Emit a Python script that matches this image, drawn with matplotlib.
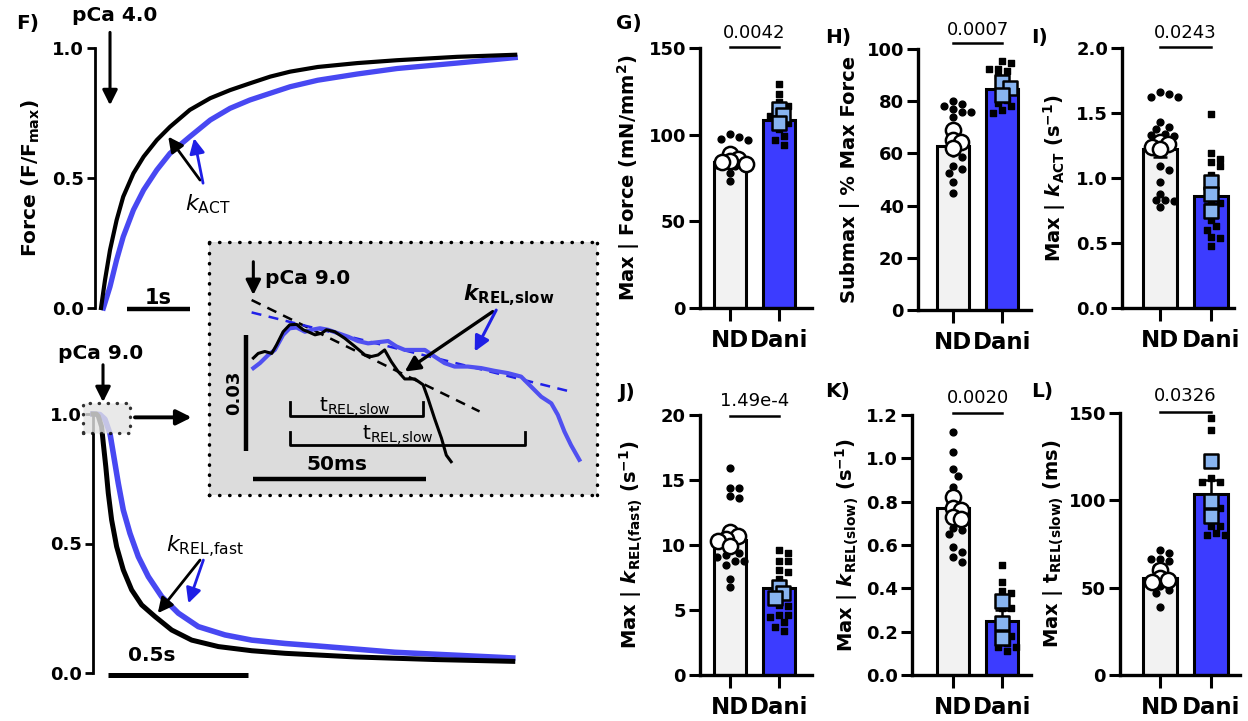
import numpy as np
import matplotlib
matplotlib.use('Agg')
import matplotlib.pyplot as plt
from matplotlib.patches import Rectangle

plt.rcParams['font.family'] = ['DejaVu Sans']
plt.rcParams['mathtext.fontset'] = 'custom'
plt.rcParams['mathtext.rm'] = 'DejaVu Sans'
plt.rcParams['mathtext.it'] = 'DejaVu Sans:italic'
plt.rcParams['mathtext.bf'] = 'DejaVu Sans:bold'
plt.rcParams['mathtext.bfit'] = 'DejaVu Sans:italic:bold'
plt.rcParams['mathtext.default'] = 'regular'

# ---- F) activation traces (s, F/Fmax) ----
act_t_nd = [0, 0.067, 0.15, 0.26, 0.37, 0.54, 0.71, 0.93, 1.15, 1.48, 1.82, 2.15,
            2.48, 2.82, 3.15, 3.61, 4.27, 4.93, 5.93, 6.90]
act_f_nd = [0, 0.108, 0.223, 0.338, 0.428, 0.518, 0.582, 0.646, 0.697, 0.762, 0.807,
            0.838, 0.864, 0.89, 0.909, 0.927, 0.942, 0.953, 0.966, 0.974]
act_t_dani = [0.04, 0.15, 0.26, 0.37, 0.54, 0.71, 0.93, 1.15, 1.48, 1.82, 2.15, 2.48,
              2.82, 3.15, 3.61, 4.27, 4.93, 5.93, 6.90]
act_f_dani = [0, 0.082, 0.185, 0.274, 0.377, 0.454, 0.531, 0.595, 0.659, 0.723, 0.768,
              0.80, 0.826, 0.851, 0.876, 0.90, 0.921, 0.942, 0.963]

# ---- F) relaxation traces (s, F/Fmax) ----
rel_t_nd = [0, 0.012, 0.019, 0.031, 0.037, 0.046, 0.055, 0.067, 0.085, 0.109, 0.139,
            0.175, 0.223, 0.283, 0.355, 0.451, 0.571, 0.691, 0.943, 1.229, 1.51]
rel_f_nd = [1.0, 1.0, 0.992, 0.951, 0.887, 0.797, 0.694, 0.591, 0.488, 0.398, 0.321,
            0.263, 0.218, 0.166, 0.127, 0.102, 0.086, 0.076, 0.062, 0.052, 0.045]
rel_t_dani = [0, 0.025, 0.043, 0.061, 0.073, 0.091, 0.109, 0.133, 0.163, 0.199, 0.247,
              0.307, 0.379, 0.475, 0.571, 0.691, 0.80, 1.086, 1.51]
rel_f_dani = [1.0, 0.998, 0.98, 0.925, 0.848, 0.732, 0.629, 0.539, 0.449, 0.372, 0.295,
              0.231, 0.179, 0.147, 0.127, 0.114, 0.105, 0.08, 0.058]

# ---- inset: start of relaxation (ms, F/Fmax) ----
ins_t_nd = [12.8, 14.2, 16.1, 18.1, 19.5, 21.4, 23.3, 25.3, 27.2, 28.6, 30.6, 32.5, 33.9,
            36.3, 39.2, 42.1, 45.0, 46.9, 48.8, 50.7, 52.6, 54.6, 56.5, 59.4, 61.8, 63.2,
            65.1, 67.1, 68.5, 69.9]
ins_f_nd = [0.9754, 0.9766, 0.9771, 0.9766, 0.9788, 0.9822, 0.9840, 0.9841, 0.9827,
            0.9822, 0.9814, 0.9818, 0.9827, 0.9822, 0.9805, 0.9784, 0.9762, 0.9758,
            0.9762, 0.9775, 0.9745, 0.9719, 0.9700, 0.9700, 0.9685, 0.9650, 0.9598,
            0.9547, 0.9503, 0.9486]
ins_t_dani = [12.8, 14.7, 17.1, 19.0, 21.4, 23.3, 25.3, 27.7, 29.6, 32.0, 34.4, 37.3,
              40.2, 43.0, 45.9, 48.8, 51.7, 54.1, 56.5, 58.4, 62.3, 65.1, 68.0, 70.9,
              74.7, 78.6, 82.4, 86.3, 90.1, 93.0, 95.9, 98.8, 100.7, 102.6, 104.5, 106.9]
ins_f_dani = [0.9728, 0.9741, 0.9762, 0.9775, 0.9814, 0.9831, 0.9833, 0.9822, 0.9827,
              0.9831, 0.9827, 0.9818, 0.9809, 0.9798, 0.9792, 0.9795, 0.9798, 0.9784,
              0.9775, 0.9775, 0.9775, 0.9758, 0.9741, 0.9732, 0.9732, 0.9728, 0.9721,
              0.9715, 0.9706, 0.9680, 0.9654, 0.9637, 0.9607, 0.9564, 0.9529, 0.9491]
fit_t_nd = [12.3, 78.1]
fit_f_nd = [0.9904, 0.9616]
fit_t_dani = [12.3, 104.5]
fit_f_dani = [0.9872, 0.9667]

groups = ['ND', 'Dani']

# ---- G) Max force (mN/mm2) ----
g_bar = [84, 108.5]
g_err = [2.5, 3.0]
g_nd_dots = [100.6, 98.5, 97.5, 97, 87.5, 85.6, 83.6, 82.7, 82, 81, 78, 73]
g_nd_means = [89, 86, 85, 84, 83]
g_dani_dots = [129, 123.5, 118.7, 116.7, 114.4, 112.5, 110.6, 108.7, 106.7, 103, 99, 97, 94]
g_dani_means = [115, 111.5, 106.7]
g_p = '0.0042'

# ---- H) Submax % max force ----
h_bar = [63, 84.5]
h_err = [2.5, 2.0]
h_nd_dots = [80, 79, 78, 77, 76, 76, 74, 60, 58.8, 55, 54, 52.4, 49, 44.8]
h_nd_means = [69, 65, 64.5, 62]
h_dani_dots = [95.3, 94.5, 92.5, 92.5, 91.4, 89.5, 83.1, 80.6, 79.3, 78, 76.7, 75.4]
h_dani_means = [87.2, 85.2, 82.5]
h_p = '0.0007'

# ---- I) kACT (1/s) ----
i_bar = [1.22, 0.86]
i_err = [0.06, 0.06]
i_nd_dots = [1.66, 1.65, 1.62, 1.62, 1.43, 1.39, 1.38, 1.34, 1.33, 1.32, 1.09, 1.06,
             0.97, 0.88, 0.83, 0.83, 0.82, 0.78]
i_nd_means = [1.28, 1.26, 1.24, 1.22]
i_dani_dots = [1.49, 1.19, 1.15, 1.12, 1.09, 1.02, 0.83, 0.81, 0.77, 0.68, 0.63, 0.60,
               0.55, 0.54, 0.48]
i_dani_means = [0.97, 0.88, 0.75]
i_p = '0.0243'

# ---- J) kREL(fast) (1/s) ----
j_bar = [10.4, 6.7]
j_err = [0.5, 0.5]
j_nd_dots = [15.9, 14.4, 14.4, 13.8, 13.6, 9.7, 9.4, 9.2, 9.1, 8.8, 8.8, 8.5, 7.4, 6.8]
j_nd_means = [11.0, 10.7, 10.5, 10.3, 9.9]
j_dani_dots = [9.6, 9.4, 8.8, 8.8, 8.1, 7.9, 7.4, 5.4, 5.3, 4.6, 4.6, 4.5, 4.1, 3.7, 3.4]
j_dani_means = [6.8, 6.3, 5.9]
j_p = '1.49e-4'

# ---- K) kREL(slow) (1/s) ----
k_bar = [0.77, 0.25]
k_err = [0.02, 0.05]
k_nd_dots = [1.12, 1.03, 0.95, 0.92, 0.87, 0.80, 0.78, 0.715, 0.68, 0.67, 0.65, 0.59,
             0.57, 0.546, 0.52]
k_nd_means = [0.82, 0.77, 0.76, 0.73, 0.72]
k_dani_dots = [0.51, 0.43, 0.39, 0.38, 0.31, 0.31, 0.22, 0.18, 0.18, 0.15, 0.13, 0.13, 0.11]
k_dani_means = [0.34, 0.24, 0.17]
k_p = '0.0020'

# ---- L) tREL(slow) (ms) ----
l_bar = [55.5, 103.5]
l_err = [2.5, 8.0]
l_nd_dots = [71.7, 69.8, 66.3, 66.3, 65, 62.1, 58.3, 50.7, 48.8, 46.8, 39.2]
l_nd_means = [60.2, 55.4, 54.5, 53.5]
l_dani_dots = [147, 140.2, 112.8, 110.3, 110.3, 96.6, 95.6, 85.1, 85.1, 81.3, 80.3, 80.3]
l_dani_means = [122.4, 99.4, 90.8]
l_p = '0.0326'

W, H = 1248, 721
BLUE_TRACE = '#4848f2'
BLUE_BAR = '#3c3cff'
LIGHT_BLUE = '#88b4f0'
ND_FILL = '#f2f2f2'
FS = 13  # base text size


def add_ax(fig, left, top, right, bottom):
    return fig.add_axes([left / W, 1 - bottom / H, (right - left) / W, (bottom - top) / H])


def arrow(ax, tail, head, color='k', lw=2.2, hw=0.45, hl=0.9):
    ax.annotate('', xy=head, xytext=tail, annotation_clip=False,
                arrowprops=dict(arrowstyle=f'-|>,head_width={hw},head_length={hl}',
                                lw=lw, color=color, shrinkA=0, shrinkB=0,
                                mutation_scale=10))


def trace_axes(ax):
    for s in ['top', 'right', 'bottom']:
        ax.spines[s].set_visible(False)
    ax.spines['left'].set_linewidth(2.0)
    ax.set_xticks([])
    ax.set_yticks([0, 0.5, 1.0], ['0.0', '0.5', '1.0'], fontsize=FS, fontweight='bold')
    ax.tick_params(axis='y', length=6, width=2.0, pad=2)
    ax.patch.set_alpha(0)


def swarm(vals, px_unit, px_cat, d):
    vals = np.asarray(vals, float)
    xs = np.zeros(len(vals))
    pts = []
    for i in np.argsort(-vals):
        y = vals[i] * px_unit
        k = 0
        while True:
            step = (k + 1) // 2
            x = step * d * 0.6 * (1 if k % 2 else -1)
            if all((x - px) ** 2 + (y - py) ** 2 >= d * d for px, py in pts):
                break
            k += 1
        pts.append((x, y))
        xs[i] = x / px_cat
    return xs


fig = plt.figure(figsize=(W / 100, H / 100), dpi=100)

# ---------- F top: activation ----------
axA = add_ax(fig, 95, 48, 520, 308)
axA.set_xlim(-0.1, 6.98)
axA.set_ylim(0, 1)
trace_axes(axA)
axA.plot(act_t_dani, act_f_dani, color=BLUE_TRACE, lw=3.8, clip_on=False)
axA.plot(act_t_nd, act_f_nd, color='k', lw=3.0, clip_on=False)
axA.set_ylabel('Force (F/F$_{max}$)', fontsize=14.5, fontweight='bold')
axA.yaxis.set_label_coords((42 - 95) / 425, 0.5)
axA.text(0.23, 1.125, 'pCa 4.0', fontsize=14.5, fontweight='bold', ha='center', va='center')
arrow(axA, (0.15, 1.06), (0.15, 0.78))
axA.plot([0.43, 1.48], [-0.004, -0.004], color='k', lw=3.2, clip_on=False, solid_capstyle='butt')
axA.text(0.95, 0.04, '1s', fontsize=15, fontweight='bold', ha='center', va='center')
arrow(axA, (1.65, 0.492), (1.12, 0.659), lw=2.0)
arrow(axA, (1.70, 0.48), (1.55, 0.653), color='#1f1fe6', lw=2.0)
axA.text(1.78, 0.40, r'$\mathit{k}_{ACT}$', fontsize=16, ha='center', va='center')
fig.text(16 / W, 1 - 24 / H, 'F)', fontsize=14.5, fontweight='bold', va='center')

# ---------- F bottom: relaxation ----------
axB = add_ax(fig, 93, 414, 520, 673)
axB.set_xlim(0, 1.536)
axB.set_ylim(0, 1)
trace_axes(axB)
axB.plot(rel_t_dani, rel_f_dani, color=BLUE_TRACE, lw=4.0, clip_on=False)
axB.plot(rel_t_nd, rel_f_nd, color='k', lw=3.6, clip_on=False)
axB.add_patch(Rectangle((-0.036, 0.927), 0.169, 0.115, fc='#e4e4e4', alpha=0.8,
                        ec='k', ls=(0, (0.1, 2.6)), lw=2.4, capstyle='round',
                        zorder=5, clip_on=False))
axB.text(0.026, 1.232, 'pCa 9.0', fontsize=14.5, fontweight='bold', ha='center', va='center')
arrow(axB, (0.036, 1.19), (0.036, 1.046))
arrow(axB, (0.151, 0.987), (0.355, 0.987), lw=2.8)
axB.text(0.403, 0.488, r'$\mathit{k}_{REL{,}fast}$', fontsize=16, ha='center', va='center')
arrow(axB, (0.385, 0.436), (0.233, 0.231), lw=2.0)
arrow(axB, (0.397, 0.436), (0.343, 0.269), color='#1f1fe6', lw=2.0)
axB.plot([0.055, 0.559], [-0.008, -0.008], color='k', lw=3.6, clip_on=False, solid_capstyle='butt')
axB.text(0.211, 0.069, '0.5s', fontsize=14.5, fontweight='bold', ha='center', va='center')

# ---------- inset ----------
axI = add_ax(fig, 209, 242, 597, 495)
axI.set_zorder(10)
axI.set_facecolor('#dcdcdc')
axI.set_xlim(0, 112)
axI.set_ylim(0.94, 1.0054)
axI.set_xticks([])
axI.set_yticks([])
for s in axI.spines.values():
    s.set_linestyle((0, (0.1, 2.8)))
    s.set_linewidth(2.5)
    s.set_capstyle('round')
axI.plot(fit_t_nd, fit_f_nd, color='k', lw=1.8, ls=(0, (4, 3)))
axI.plot(fit_t_dani, fit_f_dani, color='#2020e8', lw=1.8, ls=(0, (4, 3)))
axI.plot(ins_t_dani, ins_f_dani, color='#5050f0', lw=3.0)
axI.plot(ins_t_nd, ins_f_nd, color='k', lw=2.2)
arrow(axI, (12.8, 1.0003), (12.8, 0.9917))
axI.text(16.1, 0.9960, 'pCa 9.0', fontsize=14.5, fontweight='bold', ha='left', va='center')
axI.text(73.3, 0.9917, r'$\mathbfit{k}_{REL{,}slow}$', fontsize=15.5, fontweight='bold',
         ha='left', va='center')
arrow(axI, (81.9, 0.9874), (56.5, 0.9719), lw=2.4)
arrow(axI, (82.9, 0.9878), (76.7, 0.9771), color='#1f1fe6', lw=2.2)
for x0, x1, yb, yt, xt, ytx in [(23.3, 61.8, 0.9603, 0.9641, 42.1, 0.9628),
                                (23.3, 91.3, 0.9528, 0.9564, 54.6, 0.9555)]:
    axI.plot([x0, x0, x1, x1], [yt, yb, yb, yt], color='k', lw=2.0)
    axI.text(xt, ytx, 't$_{REL{,}slow}$', fontsize=14.5, ha='center', va='center')
axI.plot([10.6, 10.6], [0.9514, 0.9814], color='k', lw=3.2, solid_capstyle='butt')
axI.text(7.3, 0.9663, '0.03', fontsize=13, fontweight='bold', rotation=90,
         ha='center', va='center')
axI.plot([12.8, 62.7], [0.9441, 0.9441], color='k', lw=3.2, solid_capstyle='butt')
axI.text(36.8, 0.9478, '50ms', fontsize=14.5, fontweight='bold', ha='center', va='center')

# ---------- bar panels ----------
panels = [
    dict(lbl='G)', box=(700, 48, 812, 308), cats=(730, 779), lab_x=642, lab_pos=(616, 23),
         ymax=150, ticks=[0, 50, 100, 150], tl=['0', '50', '100', '150'],
         ylabel='Max | Force (mN/mm$^{2}$)', bar=g_bar, err=g_err, nd=g_nd_dots,
         ndm=g_nd_means, da=g_dani_dots, dam=g_dani_means, p=g_p, pl=150.8, pt=153.5),
    dict(lbl='H)', box=(918, 49, 1031, 310), cats=(953, 1002), lab_x=860, lab_pos=(825, 38),
         ymax=100, ticks=[0, 20, 40, 60, 80, 100], tl=['0', '20', '40', '60', '80', '100'],
         ylabel='Submax | % Max Force', bar=h_bar, err=h_err, nd=h_nd_dots,
         ndm=h_nd_means, da=h_dani_dots, dam=h_dani_means, p=h_p, pl=102.2, pt=103.8),
    dict(lbl='I)', box=(1122, 48, 1234, 308), cats=(1160, 1211), lab_x=1068, lab_pos=(1031, 38),
         ymax=2.0, ticks=[0, 0.5, 1.0, 1.5, 2.0], tl=['0.0', '0.5', '1.0', '1.5', '2.0'],
         ylabel=r'Max | $\mathbfit{k}_{ACT}$ (s$^{-1}$)', bar=i_bar, err=i_err, nd=i_nd_dots,
         ndm=i_nd_means, da=i_dani_dots, dam=i_dani_means, p=i_p, pl=2.01, pt=2.045),
    dict(lbl='J)', box=(700, 415, 812, 675), cats=(730, 779), lab_x=645, lab_pos=(618, 392),
         ymax=20, ticks=[0, 5, 10, 15, 20], tl=['0', '5', '10', '15', '20'],
         ylabel=r'Max | $\mathbfit{k}_{REL(fast)}$ (s$^{-1}$)', bar=j_bar, err=j_err,
         nd=j_nd_dots, ndm=j_nd_means, da=j_dani_dots, dam=j_dani_means, p=j_p,
         pl=19.92, pt=20.4),
    dict(lbl='K)', box=(912, 415, 1031, 675), cats=(953, 1002), lab_x=861, lab_pos=(825, 392),
         ymax=1.2, ticks=[0, 0.2, 0.4, 0.6, 0.8, 1.0, 1.2],
         tl=['0.0', '0.2', '0.4', '0.6', '0.8', '1.0', '1.2'],
         ylabel=r'Max | $\mathbfit{k}_{REL(slow)}$ (s$^{-1}$)', bar=k_bar, err=k_err,
         nd=k_nd_dots, ndm=k_nd_means, da=k_dani_dots, dam=k_dani_means, p=k_p,
         pl=1.208, pt=1.236),
    dict(lbl='L)', box=(1120, 413, 1240, 675), cats=(1160, 1211), lab_x=1066, lab_pos=(1031, 392),
         ymax=150, ticks=[0, 50, 100, 150], tl=['0', '50', '100', '150'],
         ylabel='Max | t$_{REL(slow)}$ (ms)', bar=l_bar, err=l_err, nd=l_nd_dots,
         ndm=l_nd_means, da=l_dani_dots, dam=l_dani_means, p=l_p, pl=150.7, pt=154.5),
]

for pnl in panels:
    left, top, right, bottom = pnl['box']
    c0, c1 = pnl['cats']
    sp = c1 - c0
    ax = add_ax(fig, left, top, right, bottom)
    ax.set_xlim((left - c0) / sp, (right - c0) / sp)
    ax.set_ylim(0, pnl['ymax'])
    for s in ['top', 'right']:
        ax.spines[s].set_visible(False)
    for s in ['left', 'bottom']:
        ax.spines[s].set_linewidth(2.4)
    ax.set_yticks(pnl['ticks'], pnl['tl'], fontsize=FS, fontweight='bold')
    ax.set_xticks([0, 1], groups, fontsize=16.5, fontweight='bold')
    ax.tick_params(axis='y', length=8, width=2.2, pad=2)
    ax.tick_params(axis='x', length=9, width=2.2, pad=6)
    ax.set_ylabel(pnl['ylabel'], fontsize=14, fontweight='bold')
    ax.yaxis.set_label_coords((pnl['lab_x'] - left) / (right - left), 0.5)

    ax.bar([0, 1], pnl['bar'], width=0.66, color=[ND_FILL, BLUE_BAR],
           edgecolor='k', linewidth=2.2, zorder=2)
    ax.errorbar([0, 1], pnl['bar'], yerr=pnl['err'], fmt='none', ecolor='k',
                elinewidth=1.8, capsize=5, capthick=1.8, zorder=3)

    px_unit = (bottom - top) / pnl['ymax']
    ax.scatter(swarm(pnl['nd'], px_unit, sp, 7.5), pnl['nd'], s=24, marker='o',
               color='k', zorder=4, clip_on=False)
    ax.scatter(1 + swarm(pnl['da'], px_unit, sp, 7.5), pnl['da'], s=22, marker='s',
               color='k', zorder=4, clip_on=False)
    ax.scatter(swarm(pnl['ndm'], px_unit, sp, 6.8), pnl['ndm'], s=120, marker='o',
               facecolor='white', edgecolor='k', linewidth=1.8, zorder=5, clip_on=False)
    ax.scatter(1 + swarm(pnl['dam'], px_unit, sp, 6.8), pnl['dam'], s=100, marker='s',
               facecolor=LIGHT_BLUE, edgecolor='k', linewidth=1.8, zorder=5, clip_on=False)

    ax.plot([0, 1], [pnl['pl'], pnl['pl']], color='k', lw=1.8, clip_on=False)
    ax.text(0.5, pnl['pt'], pnl['p'], fontsize=13, ha='center', va='bottom')
    fig.text(pnl['lab_pos'][0] / W, 1 - pnl['lab_pos'][1] / H, pnl['lbl'],
             fontsize=14.5, fontweight='bold', va='center')

fig.savefig('out.png', dpi=100)
